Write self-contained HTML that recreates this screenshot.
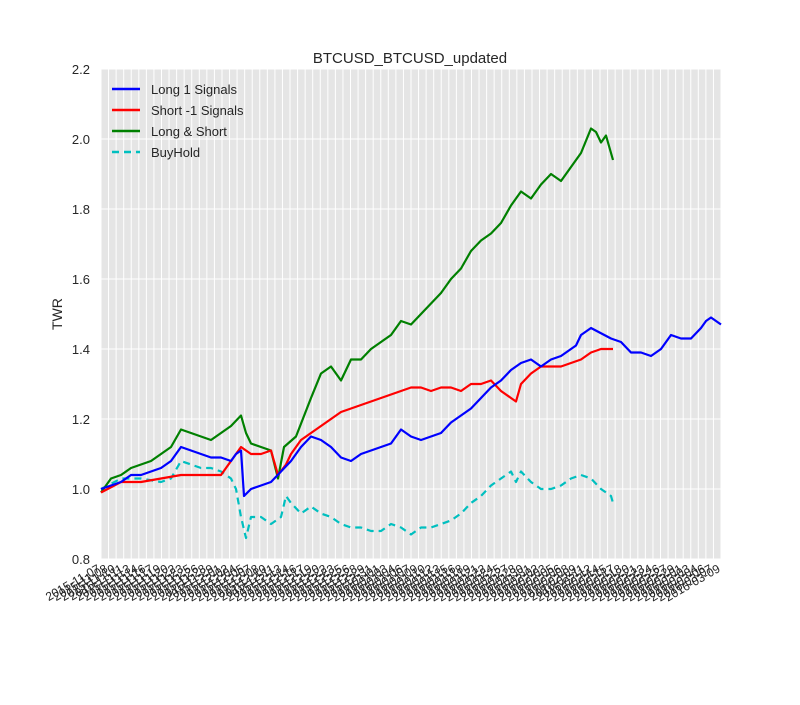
<!DOCTYPE html>
<html><head><meta charset="utf-8">
<style>
body{margin:0;background:#fff;font-family:"Liberation Sans",sans-serif;}
svg text{font-family:"Liberation Sans",sans-serif;fill:#262626;}
</style></head>
<body>
<svg id="chart" width="800" height="700" xmlns="http://www.w3.org/2000/svg">
<rect x="101" y="69" width="620" height="490" fill="#e5e5e5"/>
<g id="grid"></g>
<g id="series"></g>
<g id="yticks"></g>
<g id="xticks"></g>
<text x="410" y="63" text-anchor="middle" font-size="15">BTCUSD_BTCUSD_updated</text>
<text x="62" y="314" text-anchor="middle" font-size="14" transform="rotate(-90 62 314)">TWR</text>
<g>
<g><line x1="112" y1="89" x2="140" y2="89" stroke="#0000ff" stroke-width="2.5"/><text x="151" y="94" font-size="13">Long 1 Signals</text></g>
<g><line x1="112" y1="110" x2="140" y2="110" stroke="#ff0000" stroke-width="2.5"/><text x="151" y="115" font-size="13">Short -1 Signals</text></g>
<g><line x1="112" y1="131" x2="140" y2="131" stroke="#008000" stroke-width="2.5"/><text x="151" y="136" font-size="13">Long &amp; Short</text></g>
<g><line x1="112" y1="152" x2="140" y2="152" stroke="#00bfbf" stroke-width="2.5" stroke-dasharray="7,5"/><text x="151" y="157" font-size="13">BuyHold</text></g>
</g>
</svg>
<script>
const yTicks=[0.8,1.0,1.2,1.4,1.6,1.8,2.0,2.2];
const tickCount=83;
const startDate="2015-11-07";
const longDays=[0,2,4,6,8,10,12,14,16,18,20,22,24,26,27,28,28.6,30,32,34,36,38,40,42,44,46,48,50,52,54,56,58,60,62,64,66,68,70,72,74,76,78,80,82,84,86,88,90,92,94,95,96,98,102,104,106,108,110,112,114,116,118,120,121,122,124];
const longVals=[1.0,1.01,1.02,1.04,1.04,1.05,1.06,1.08,1.12,1.11,1.10,1.09,1.09,1.08,1.10,1.11,0.98,1.0,1.01,1.02,1.05,1.08,1.12,1.15,1.14,1.12,1.09,1.08,1.10,1.11,1.12,1.13,1.17,1.15,1.14,1.15,1.16,1.19,1.21,1.23,1.26,1.29,1.31,1.34,1.36,1.37,1.35,1.37,1.38,1.40,1.41,1.44,1.46,1.43,1.42,1.39,1.39,1.38,1.40,1.44,1.43,1.43,1.46,1.48,1.49,1.47,1.49,1.48];
const shortDays=[0,4,8,12,16,20,24,28,30,32,34,35.4,37,38,40,42,44,46,48,50,52,54,56,58,60,62,64,66,68,70,72,74,76,78,80,82,83,84,86,88,90,92,94,96,98,100,102.4];
const shortVals=[0.99,1.02,1.02,1.03,1.04,1.04,1.04,1.12,1.10,1.10,1.11,1.04,1.07,1.10,1.14,1.16,1.18,1.20,1.22,1.23,1.24,1.25,1.26,1.27,1.28,1.29,1.29,1.28,1.29,1.29,1.28,1.30,1.30,1.31,1.28,1.26,1.25,1.30,1.33,1.35,1.35,1.35,1.36,1.37,1.39,1.40,1.40];
const lsDays=[0,2,4,6,8,10,12,14,16,18,20,22,24,26,28,29,30,32,34,35.4,36.6,39,42,44,46,48,50,52,54,56,58,60,62,64,66,68,70,72,74,76,78,80,82,84,86,88,90,92,94,96,98,99,100,101,102,102.4];
const lsVals=[0.99,1.03,1.04,1.06,1.07,1.08,1.10,1.12,1.17,1.16,1.15,1.14,1.16,1.18,1.21,1.16,1.13,1.12,1.11,1.03,1.12,1.15,1.26,1.33,1.35,1.31,1.37,1.37,1.40,1.42,1.44,1.48,1.47,1.50,1.53,1.56,1.60,1.63,1.68,1.71,1.73,1.76,1.81,1.85,1.83,1.87,1.90,1.88,1.92,1.96,2.03,2.02,1.99,2.01,1.96,1.94];
const bhDays=[0,4,8,12,14,16,18,20,22,24,26,27,28,29,30,32,34,36,37,38,40,42,44,46,48,50,52,54,56,58,60,62,64,66,68,70,72,74,76,78,80,82,83,84,86,88,90,92,94,96,98,100,101,102,102.4];
const bhVals=[1.0,1.03,1.03,1.02,1.03,1.08,1.07,1.06,1.06,1.05,1.03,1.0,0.92,0.86,0.92,0.92,0.90,0.92,0.98,0.96,0.93,0.95,0.93,0.92,0.90,0.89,0.89,0.88,0.88,0.90,0.89,0.87,0.89,0.89,0.90,0.91,0.93,0.96,0.98,1.01,1.03,1.05,1.02,1.05,1.02,1.00,1.00,1.01,1.03,1.04,1.03,1.00,0.99,0.98,0.96];

const X0=101,X1=721,Y0=559,Y1=69,DMAX=124;
const xS=d=>X0+(d/DMAX)*(X1-X0);
const yS=v=>Y0-(v-0.8)/(2.2-0.8)*(Y0-Y1);
const NS="http://www.w3.org/2000/svg";
function mk(tag,attrs,parent){const e=document.createElementNS(NS,tag);for(const k in attrs)e.setAttribute(k,attrs[k]);parent.appendChild(e);return e;}
const grid=document.getElementById('grid'),xt=document.getElementById('xticks'),yt=document.getElementById('yticks'),ser=document.getElementById('series');
yTicks.forEach(v=>{
  const l=mk('line',{x1:X0,x2:X1,y1:yS(v),y2:yS(v),stroke:'#fff','stroke-width':1},grid);
  
  
  const t=mk('text',{x:X0-11,y:yS(v)+5,'text-anchor':'end','font-size':13},yt);
  t.textContent=v.toFixed(1);
  
  
});
const sd=new Date(startDate+"T00:00:00Z");
for(let i=0;i<tickCount;i++){
  const d=i*DMAX/(tickCount-1);
  const x=xS(d);
  const l=mk('line',{x1:x,x2:x,y1:Y1,y2:Y0,stroke:'#fff','stroke-width':1},grid);
  
  
  const dt=new Date(sd.getTime()+i*86400000*1.5);
  const s=dt.toISOString().slice(0,10);
  const t=mk('text',{x:x,y:Y0+12,'text-anchor':'end','font-size':12,transform:`rotate(-30 ${x} ${Y0+12})`},xt);
  t.textContent=s;
  
  
}
function line(days,vals,color,name,dash){
  const p=days.map((d,i)=>(i?'L':'M')+xS(d).toFixed(1)+','+yS(vals[i]).toFixed(1)).join('');
  const e=mk('path',{d:p,fill:'none',stroke:color,'stroke-width':2.2,'stroke-linejoin':'round'},ser);
  if(dash)e.setAttribute('stroke-dasharray',dash);
  
  
}
line(bhDays,bhVals,'#00bfbf','buyhold-line','7,5');
line(lsDays,lsVals,'#008000','long-short-line');
line(shortDays,shortVals,'#ff0000','short-signals-line');
line(longDays,longVals,'#0000ff','long-signals-line');
</script>
</body></html>
